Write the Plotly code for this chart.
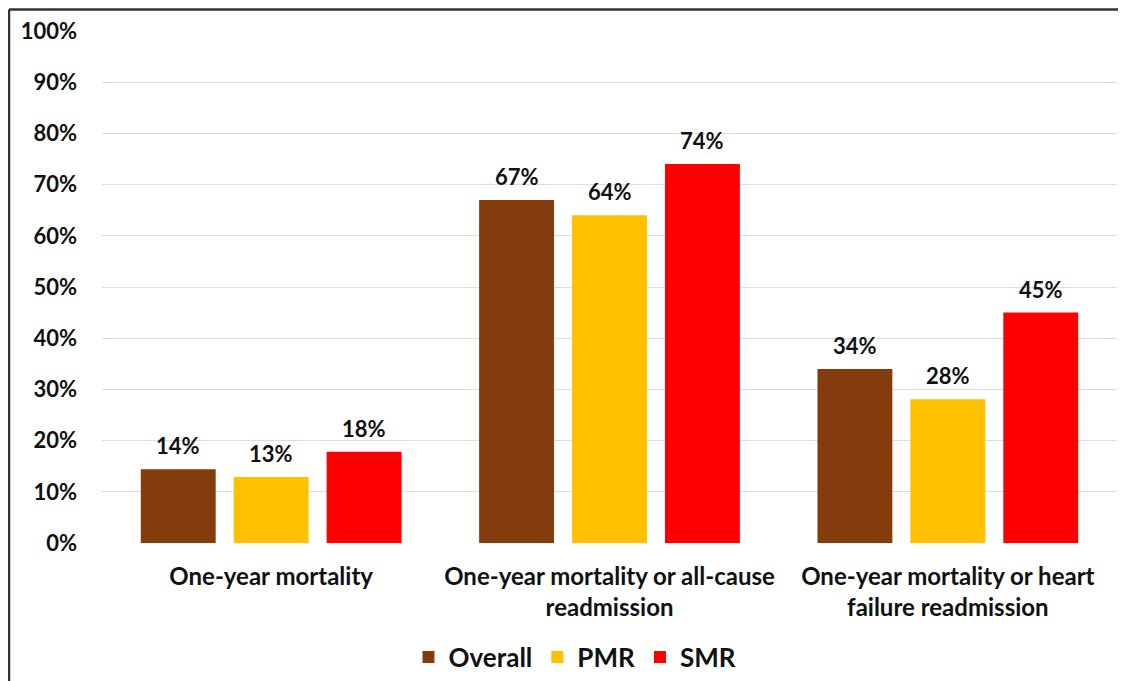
import plotly.graph_objects as go

categories = ["One-year mortality",
              "One-year mortality or all-cause<br>readmission",
              "One-year mortality or heart<br>failure readmission"]
series_names = ["Overall", "PMR", "SMR"]
overall = [14.4, 67.0, 34.0]
pmr = [12.9, 64.0, 28.1]
smr = [17.8, 74.0, 45.0]
overall_labels = ["14%", "67%", "34%"]
pmr_labels = ["13%", "64%", "28%"]
smr_labels = ["18%", "74%", "45%"]
colors = ["#843C0C", "#FFC000", "#FF0000"]
y_ticks = [0, 10, 20, 30, 40, 50, 60, 70, 80, 90, 100]

FONT = "Lato"
BARGAP = 0.176
GROUPGAP = 0.194

series_vals = [overall, pmr, smr]
series_labels = [overall_labels, pmr_labels, smr_labels]
xpos = list(range(len(categories)))

fig = go.Figure()
for name, vals, col in zip(series_names, series_vals, colors):
    fig.add_trace(go.Bar(x=xpos, y=vals, name=name, marker_color=col,
                         marker_line_width=0))

slot = (1 - BARGAP) / len(series_names)
annotations = []
for j, (vals, labs) in enumerate(zip(series_vals, series_labels)):
    off = (j - (len(series_names) - 1) / 2) * slot
    for i, (v, lab) in enumerate(zip(vals, labs)):
        annotations.append(dict(x=xpos[i] + off, y=v, text="<b>%s</b>" % lab,
                                showarrow=False, yanchor="bottom", yshift=8,
                                font=dict(family=FONT, size=22, color="#111111")))

# page body has an 8px default margin, so the figure is sized to fit the window
fig.update_layout(
    width=1118, height=673,
    margin=dict(l=94, r=9, t=23, b=138, autoexpand=False),
    paper_bgcolor="white", plot_bgcolor="white",
    barmode="group", bargap=BARGAP, bargroupgap=GROUPGAP,
    font=dict(family=FONT, size=22, color="#111111"),
    showlegend=True,
    legend=dict(orientation="h", x=0.466, xanchor="center", y=-0.223, yanchor="middle",
                font=dict(family=FONT, size=26, color="#111111", weight="bold"),
                itemwidth=30, tracegroupgap=0),
    annotations=annotations,
    shapes=[
        dict(type="line", xref="paper", yref="paper", x0=-0.0916, x1=1.02, y0=1.042, y1=1.042,
             line=dict(color="#333333", width=2.5)),
        dict(type="line", xref="paper", yref="paper", x0=-0.0916, x1=-0.0916, y0=1.042, y1=-0.28,
             line=dict(color="#333333", width=2.5)),
    ],
)
fig.update_xaxes(range=[-0.5, 2.5], tickvals=xpos,
                 ticktext=["<b>%s</b>" % c for c in categories],
                 showgrid=False, zeroline=False, showline=False, ticks="",
                 tickfont=dict(family=FONT, size=24, color="#111111"),
                 ticklabelstandoff=17, automargin=False)
fig.update_yaxes(range=[0, 100], tickvals=y_ticks,
                 ticktext=["<b>%d%%</b>" % t for t in y_ticks],
                 showgrid=True, gridcolor="#D9DEE6", gridwidth=1,
                 zeroline=False, showline=False, ticks="",
                 tickfont=dict(family=FONT, size=22, color="#111111"),
                 ticklabelstandoff=24, automargin=False)

fig.write_html("out.html")
